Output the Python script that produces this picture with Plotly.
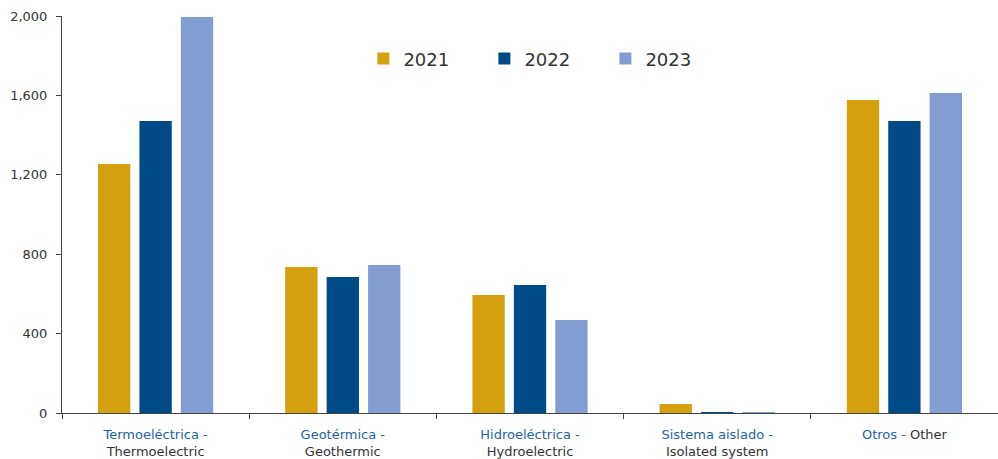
import plotly.graph_objects as go

categories_es = ["Termoeléctrica -", "Geotérmica -", "Hidroeléctrica -", "Sistema aislado -", "Otros -"]
categories_en = ["Thermoelectric", "Geothermic", "Hydroelectric", "Isolated system", "Other"]
categories = ["Termoeléctrica", "Geotérmica", "Hidroeléctrica", "Sistema aislado", "Otros"]

v2021 = [1254, 735, 594, 45, 1577]
v2022 = [1471, 685, 645, 5, 1471]
v2023 = [1995, 746, 468, 4, 1612]

years = ["2021", "2022", "2023"]
colors = ["#D4A00F", "#004B87", "#839CD1"]

BLUE = "#1F63A3"
GRAY = "#333333"

ticktext = []
for es, en in zip(categories_es, categories_en):
    if en == "Other":
        ticktext.append(f"<span style='color:{BLUE}'>{es}</span> Other")
    else:
        ticktext.append(f"<span style='color:{BLUE}'>{es}</span><br>{en}")

fig = go.Figure()
for yr, vals, c in zip(years, [v2021, v2022, v2023], colors):
    fig.add_trace(go.Bar(x=categories, y=vals, name=yr, marker=dict(color=c, line=dict(width=0))))

FONT = "Verdana, DejaVu Sans, sans-serif"
fig.update_layout(
    width=998, height=459,
    margin=dict(l=62, r=0, t=16, b=46, autoexpand=False),
    paper_bgcolor="white", plot_bgcolor="white",
    barmode="group", bargap=0.336, bargroupgap=0.22,
    font=dict(family=FONT, size=13, color=GRAY),
    showlegend=True,
    legend=dict(orientation="h", x=0.322, xanchor="left", y=0.892, yanchor="middle",
                font=dict(size=18, color=GRAY, family=FONT),
                entrywidth=76, entrywidthmode="pixels",
                bgcolor="rgba(0,0,0,0)", borderwidth=0),
    xaxis=dict(tickmode="array", tickvals=categories, ticktext=ticktext,
               tickson="boundaries", ticks="outside", ticklen=5, tickcolor="#444",
               showline=True, linecolor="#444", linewidth=1, showgrid=False,
               ticklabelstandoff=9,
               tickfont=dict(size=13, color=GRAY, family=FONT)),
    yaxis=dict(range=[0, 2000], tickvals=[0, 400, 800, 1200, 1600, 2000],
               tickformat=",d", ticks="outside", ticklen=5, tickcolor="#444",
               showline=True, linecolor="#444", linewidth=1, showgrid=False, zeroline=False,
               ticklabelstandoff=6,
               tickfont=dict(size=13, color=GRAY, family=FONT)),
)

fig.write_html("out.html", config={"displayModeBar": False},
               post_script="document.body.style.margin='0';document.body.style.overflow='hidden';")
